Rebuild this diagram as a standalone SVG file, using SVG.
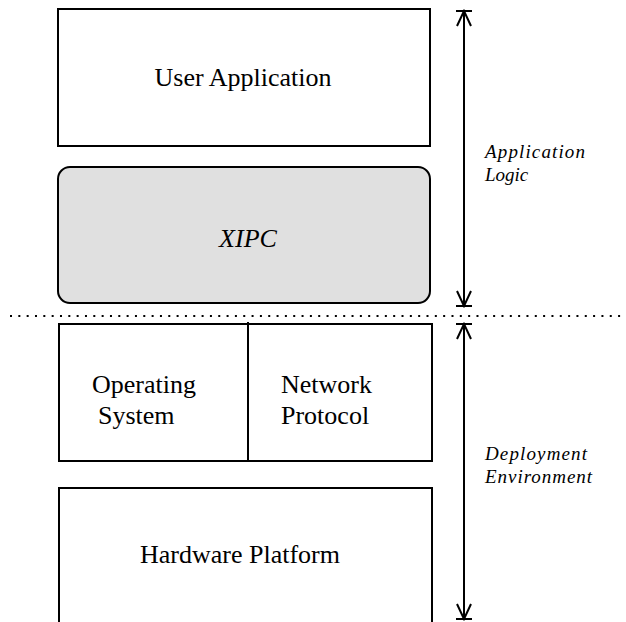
<svg xmlns="http://www.w3.org/2000/svg" width="626" height="622" viewBox="0 0 626 622">
<style>
.box{fill:#fff;stroke:#000;stroke-width:2}
.t{font-family:"Liberation Serif","Times New Roman",serif;fill:#000}
.big{font-size:26px}
.lab{font-size:19px;font-style:italic}
.conn{stroke:#000;stroke-width:2;fill:none}
</style>
<defs>
<marker id="bar" viewBox="-16 -9 18 18" refX="0" refY="0" markerWidth="18" markerHeight="18" markerUnits="userSpaceOnUse" orient="auto-start-reverse">
<path d="M-15,-7 L0,0 L-15,7 M0,-8 L0,8" fill="none" stroke="#000" stroke-width="2"/>
</marker>
</defs>
<rect width="626" height="622" fill="#fff"/>
<g id="user-application">
<rect class="box" x="58" y="9" width="372" height="137"/>
<text class="t big" x="243" y="86" text-anchor="middle">User Application</text>
</g>
<g id="xipc">
<rect class="box" x="58" y="167" width="372" height="136" rx="12" style="fill:#e0e0e0"/>
<text class="t big" x="248" y="247" text-anchor="middle" font-style="italic" font-size="29">XIPC</text>
</g>
<g id="os-network">
<rect class="box" x="59" y="324" width="373" height="137"/>
<line x1="248" y1="322" x2="248" y2="461" stroke="#000" stroke-width="2"/>
<text class="t big" x="92" y="393">Operating</text>
<text class="t big" x="98" y="424">System</text>
<text class="t big" x="281" y="393">Network</text>
<text class="t big" x="281" y="424">Protocol</text>
</g>
<g id="hardware-platform">
<path class="box" d="M59,626 V488 H432 V626"/>
<text class="t big" x="240" y="563" text-anchor="middle">Hardware Platform</text>
</g>
<g id="connectors">
<line x1="10" y1="316" x2="626" y2="316" stroke="#000" stroke-width="2" stroke-dasharray="2 6.33"/>
<line class="conn" x1="464" y1="11" x2="464" y2="306" marker-start="url(#bar)" marker-end="url(#bar)"/>
<line class="conn" x1="464" y1="324" x2="464" y2="619" marker-start="url(#bar)" marker-end="url(#bar)"/>
</g>
<g id="labels">
<text class="t lab" x="485" y="158" textLength="100" lengthAdjust="spacing">Application</text>
<text class="t lab" x="485" y="181">Logic</text>
<text class="t lab" x="485" y="460" textLength="102" lengthAdjust="spacing">Deployment</text>
<text class="t lab" x="485" y="483" textLength="107" lengthAdjust="spacing">Environment</text>
</g>
</svg>
